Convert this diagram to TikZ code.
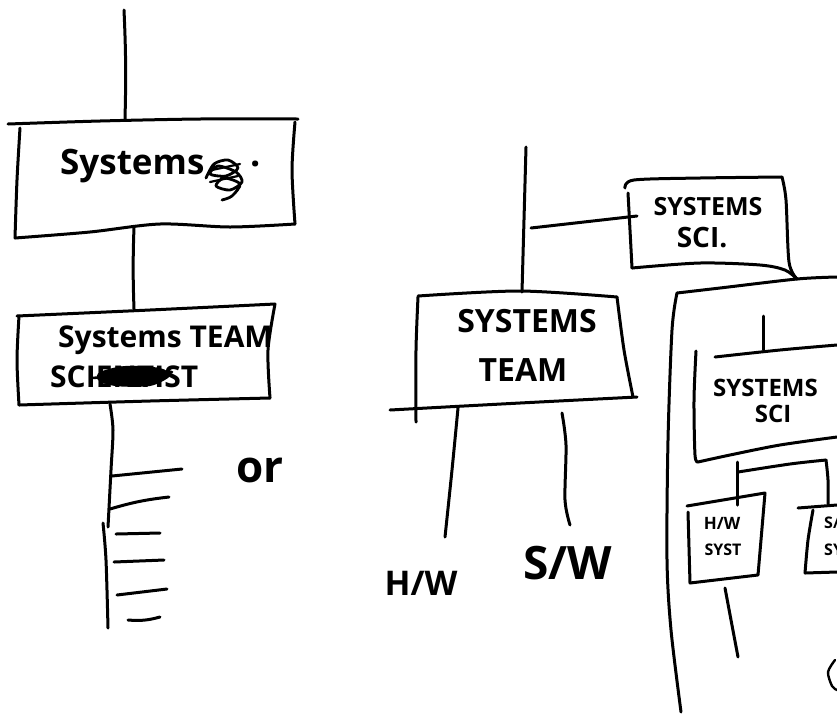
\documentclass[tikz,border=0pt]{standalone}
\usepackage{fontspec}
\setmainfont{Open Sans}
\begin{document}
\begin{tikzpicture}[x=1pt,y=-1pt,line cap=round,line join=round,
  ink/.style={line width=3pt},
  fine/.style={line width=2.4pt},
  hand/.style={font=\fontsize{#1}{#1}\selectfont\bfseries,inner sep=0pt},
  hand/.default=30]
\useasboundingbox (0,0) rectangle (837,713);
\clip (0,0) rectangle (837,713);

% ---------- left column ----------
\coordinate (topL) at (124,10);
\coordinate (b1top) at (125,119);
\draw[ink] (topL) to[bend left=2] (b1top);
% box: Systems Sci.
\draw[ink] plot[smooth] coordinates {(8,124)(100,121)(200,119)(298,119)};
\draw[ink] plot[smooth] coordinates {(20,128)(17,180)(15,238)};
\draw[ink] plot[smooth] coordinates {(295,122)(292,170)(295,224)};
\draw[ink] plot[smooth] coordinates {(15,238)(90,232)(160,224)(230,227)(295,224)};
\node[hand=35,anchor=west] (sys1) at (60,166) {Systems};
% scribbled-out word
\draw[line width=2.8pt] plot[smooth] coordinates {(206,178)(214,164)(228,160)(238,168)(226,176)(210,174)(218,166)(236,172)(242,182)(230,190)(216,186)(224,178)(240,184)(232,196)(222,200)};
\draw[line width=2.2pt] (212,170) -- (240,164) (210,182) -- (238,176);
\node[hand=36] (dot1) at (256,164) {.};
\coordinate (b1bot) at (134,227);
\coordinate (b2top) at (134,309);
\draw[ink] (b1bot) to[bend right=2] (b2top);
% box: Systems TEAM / SCIENTIST
\draw[ink] plot[smooth] coordinates {(17,316)(150,310)(275,304)};
\draw[ink] plot[smooth] coordinates {(19,316)(17,360)(19,405)};
\draw[ink] plot[smooth] coordinates {(275,304)(268,350)(270,398)};
\draw[ink] plot[smooth] coordinates {(19,405)(150,401)(270,398)};
\node[hand=30,anchor=west] (sys2) at (58,340) {Systems TEAM};
\node[hand=30,anchor=west] (sci2) at (50,377) {SCIENTIST};
% crossed-out middle of the word
\fill plot[smooth cycle] coordinates {(100,372)(125,366)(160,368)(170,376)(150,386)(115,386)(98,380)};
\draw[line width=2.6pt] (92,378) -- (172,372);
\coordinate (stemA) at (110,404);
\draw[ink] plot[smooth] coordinates {(110,404)(113,430)(111,470)(108,527)};
\draw[ink] plot[smooth] coordinates {(103,523)(106,560)(108,628)};
\draw[ink] (112,476) -- (182,469);
\draw[ink] (110,509) to[bend left=5] (169,497);
\draw[ink] (116,534) -- (160,533);
\draw[ink] (114,562) -- (164,560);
\draw[ink] (117,595) -- (167,589);
\draw[ink] (128,620) to[bend right=10] (160,617);
\node[hand=44] (or) at (260,470) {or};

% ---------- middle ----------
\coordinate (topM) at (526,147);
\coordinate (b3top) at (522,292);
\draw[ink] (topM) -- (b3top);
\coordinate (branch) at (531,228);
\coordinate (sciIn) at (637,216);
\draw[ink] (branch) -- (sciIn);
% box: SYSTEMS SCI.
\draw[ink] plot[smooth] coordinates {(625,188)(634,180)(700,178)(782,177)};
\draw[ink] plot[smooth] coordinates {(628,193)(630,230)(632,268)};
\draw[ink] plot[smooth] coordinates {(632,268)(700,263)(760,265)(785,270)(797,279)};
\draw[ink] plot[smooth] coordinates {(782,177)(786,200)(789,262)(797,279)};
\node[hand=25] (sys3) at (708,207) {SYSTEMS};
\node[hand=28] (sci3) at (702,238) {SCI.};
% box: SYSTEMS TEAM
\draw[ink] plot[smooth] coordinates {(418,296)(520,291)(617,297)};
\draw[ink] plot[smooth] coordinates {(418,297)(416,350)(416,422)};
\draw[ink] plot[smooth] coordinates {(617,297)(624,350)(633,397)};
\draw[ink] plot[smooth] coordinates {(390,410)(520,403)(637,397)};
\node[hand=32] (sys4) at (527,321) {SYSTEMS};
\node[hand=32] (team4) at (523,370) {TEAM};
\coordinate (hwTop) at (458,408);
\coordinate (hwBot) at (445,537);
\draw[ink] plot[smooth] coordinates {(hwTop)(452,470)(hwBot)};
\coordinate (swTop) at (562,413);
\coordinate (swBot) at (570,525);
\draw[ink] plot[smooth] coordinates {(swTop)(566,445)(565,500)(swBot)};
\node[hand=34] (hw) at (421,583) {H/W};
\node[hand=46] (sw) at (568,563) {S/W};

% ---------- right frame ----------
\draw[ink] plot[smooth] coordinates {(677,293)(720,288)(797,279)(837,277)};
\draw[ink] plot[smooth] coordinates {(677,293)(672,330)(668,440)(667,560)(671,630)(681,712)};
% inner box: SYSTEMS SCI
\coordinate (stemTop) at (763,316);
\coordinate (stemBot) at (763,350);
\draw[ink] (stemTop) -- (stemBot);
\draw[ink] plot[smooth] coordinates {(715,357)(780,350)(837,345)};
\draw[ink] plot[smooth] coordinates {(696,351)(694,400)(695,455)(698,462)};
\draw[ink] plot[smooth] coordinates {(698,462)(730,455)(780,445)(837,437)};
\node[hand=24,anchor=west] (sys5) at (713,388) {SYSTEMS};
\node[hand=24] (sci5) at (773,414) {SCI};
\coordinate (hwsTop) at (737,505);
\draw[ink] (737,462) -- (hwsTop);
\draw[ink] plot[smooth] coordinates {(738,472)(790,464)(826,460)};
\draw[ink] plot[smooth] coordinates {(826,460)(828,480)(828,504)};
% H/W SYST box
\draw[ink] (687,506) -- (765,493) -- (758,575) -- (690,583) -- (688,512);
\node[hand=17] (hw6) at (722,523) {H/W};
\node[hand=16] (syst6) at (723,550) {SYST};
% S/W SYST box, running past the edge
\draw[ink] (798,508) -- (837,505);
\draw[ink] plot[smooth] coordinates {(813,510)(808,540)(805,573)};
\draw[ink] (805,573) -- (837,572);
\node[hand=16,anchor=west] (sw6) at (824,523) {S/W};
\node[hand=16,anchor=west] (syst7) at (824,550) {SYST};
\draw[ink] plot[smooth] coordinates {(725,588)(731,620)(738,657)};
\draw[fine] plot[smooth] coordinates {(835,660)(828,672)(832,686)(837,690)};
\end{tikzpicture}
\end{document}
